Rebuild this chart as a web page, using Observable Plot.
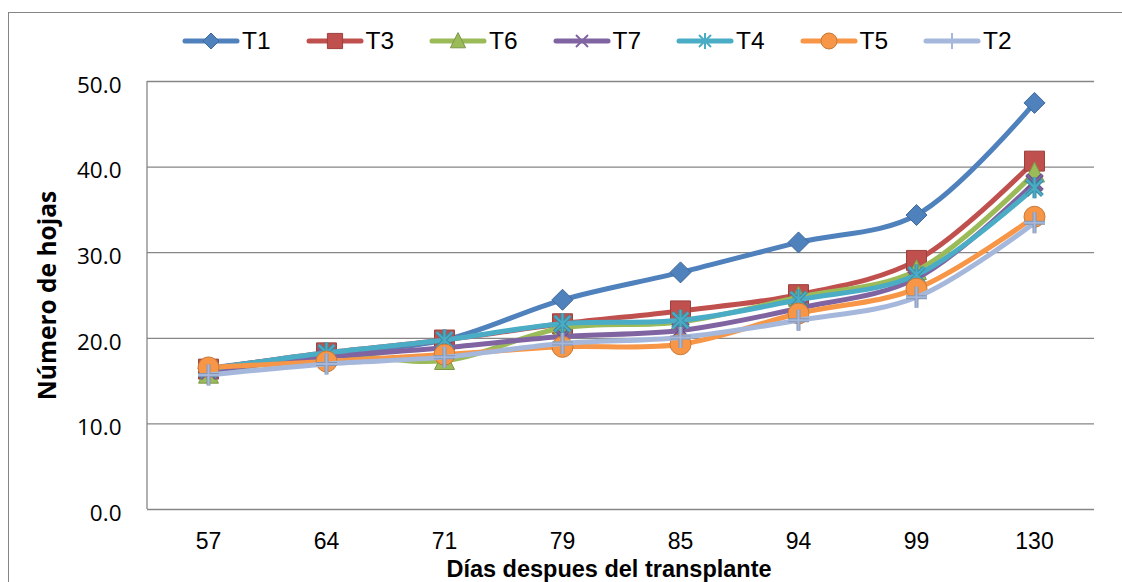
<!DOCTYPE html>
<html>
<head>
<meta charset="utf-8">
<script src="https://cdn.jsdelivr.net/npm/d3@7"></script>
<script src="https://cdn.jsdelivr.net/npm/@observablehq/plot@0.6"></script>
<style>
  html, body { margin: 0; padding: 0; background: #fff; }
  #chart { position: relative; width: 1122px; height: 582px; overflow: hidden; }
  #border { position: absolute; left: 8px; top: 12px; width: 1300px; height: 800px;
            border: 1px solid #868686; box-sizing: border-box; }
  #legend { position: absolute; left: 182px; top: 20px; height: 42px; display: flex; align-items: center;
            font-family: "Liberation Sans", Arial, sans-serif; font-size: 24.5px; color: #000; }
  .item { width: 123.5px; flex: none; display: flex; align-items: center; }
  .item svg { margin-right: 2px; }
  #plot { position: absolute; left: 0; top: 62px; }
</style>
</head>
<body>
<div id="chart">
  <div id="border"></div>
  <div id="legend"></div>
  <div id="plot"></div>
</div>
<script>
// Days after transplant (categorical x axis)
const dias = ["57", "64", "71", "79", "85", "94", "99", "130"];

// Leaf count per treatment
const T1 = [16.5, 18.2, 19.8, 24.5, 27.7, 31.2, 34.4, 47.5];
const T3 = [16.4, 18.3, 19.8, 21.7, 23.2, 25.1, 29.1, 40.7];
const T6 = [15.8, 18.0, 17.4, 21.2, 21.9, 24.8, 27.9, 39.3];
const T7 = [16.2, 17.8, 18.9, 20.2, 20.9, 23.5, 27.0, 38.2];
const T4 = [16.4, 18.3, 19.8, 21.7, 22.1, 24.5, 27.4, 37.6];
const T5 = [16.6, 17.3, 18.1, 19.0, 19.3, 22.9, 25.8, 34.2];
const T2 = [15.7, 17.0, 17.8, 19.4, 20.1, 22.1, 24.8, 33.5];

const yTicks = [0, 10, 20, 30, 40, 50];
const yTitle = "Número de hojas";
const xTitle = "Días despues del transplante";

// Marker shapes (size is π·r², so r is recovered from it)
const rad = s => Math.sqrt(s / Math.PI);
const symDiamond = {draw(c, s) { const r = rad(s); c.moveTo(0, -r); c.lineTo(r, 0); c.lineTo(0, r); c.lineTo(-r, 0); c.closePath(); }};
const symSquare = {draw(c, s) { const r = rad(s) * 0.95; c.rect(-r, -r, 2 * r, 2 * r); }};
const symTriangle = {draw(c, s) { const r = rad(s); c.moveTo(0, -r * 1.05); c.lineTo(r * 0.95, r * 0.85); c.lineTo(-r * 0.95, r * 0.85); c.closePath(); }};
const symTimes = {draw(c, s) { const r = rad(s) * 0.75; c.moveTo(-r, -r); c.lineTo(r, r); c.moveTo(r, -r); c.lineTo(-r, r); }};
const symStar = {draw(c, s) { const r = rad(s); const a = r * 0.75; c.moveTo(0, -r); c.lineTo(0, r); c.moveTo(-a, -a); c.lineTo(a, a); c.moveTo(a, -a); c.lineTo(-a, a); }};
const symCircle = {draw(c, s) { const r = rad(s); c.moveTo(r, 0); c.arc(0, 0, r, 0, 2 * Math.PI); }};
const symPlus = {draw(c, s) { const r = rad(s); c.moveTo(-r, 0); c.lineTo(r, 0); c.moveTo(0, -r); c.lineTo(0, r); }};

// Series in drawing / legend order
const series = [
  {name: "T1", values: T1, color: "#4F81BD", symbol: symDiamond, filled: true},
  {name: "T3", values: T3, color: "#C0504D", symbol: symSquare, filled: true},
  {name: "T6", values: T6, color: "#9BBB59", symbol: symTriangle, filled: true},
  {name: "T7", values: T7, color: "#8064A2", symbol: symTimes, filled: false},
  {name: "T4", values: T4, color: "#4BACC6", symbol: symStar, filled: false},
  {name: "T5", values: T5, color: "#F79646", symbol: symCircle, filled: true},
  {name: "T2", values: T2, color: "#A5B8DC", symbol: symPlus, filled: false}
];

const rows = series.flatMap(s => s.values.map((v, i) => ({serie: s.name, dia: dias[i], valor: v})));

function markerMarks(s, data, r) {
  const dark = d3.color(s.color).darker(0.6).formatHex();
  if (s.filled) {
    return [Plot.dot(data, {x: "dia", y: "valor", symbol: s.symbol, r, fill: s.color, stroke: dark, strokeWidth: 1})];
  }
  return [
    Plot.dot(data, {x: "dia", y: "valor", symbol: s.symbol, r, fill: "none", stroke: dark, strokeWidth: 4}),
    Plot.dot(data, {x: "dia", y: "valor", symbol: s.symbol, r, fill: "none", stroke: s.color, strokeWidth: 2})
  ];
}

const seriesMarks = series.flatMap(s => {
  const data = rows.filter(d => d.serie === s.name);
  return [
    Plot.line(data, {x: "dia", y: "valor", stroke: s.color, strokeWidth: 5, curve: "catmull-rom",
                     strokeLinecap: "round", strokeLinejoin: "round"}),
    ...markerMarks(s, data, 10.5)
  ];
});

// Left axis line along the plot frame
const leftAxisLine = (index, scales, values, dims) => {
  const x = dims.marginLeft;
  return d3.create("svg:line")
    .attr("x1", x).attr("x2", x)
    .attr("y1", dims.marginTop).attr("y2", dims.height - dims.marginBottom)
    .attr("stroke", "#868686").attr("stroke-width", 1.3)
    .node();
};

const chart = Plot.plot({
  width: 1122,
  height: 520,
  marginLeft: 147,
  marginRight: 28,
  marginTop: 19,
  marginBottom: 73,
  style: {background: "none", color: "#000", fontFamily: "'Liberation Sans', Arial, sans-serif"},
  x: {type: "point", domain: dias, padding: 0.5},
  y: {domain: [0, 50]},
  marks: [
    Plot.gridY(yTicks, {stroke: "#868686", strokeOpacity: 1, strokeWidth: 1.3}),
    leftAxisLine,
    Plot.axisY(yTicks, {tickSize: 0, tickPadding: 26, tickFormat: d => d.toFixed(1), fontSize: 22.5,
                        fontFamily: "'Open Sans', Lato, sans-serif", label: null, dy: 4, fill: "#000"}),
    Plot.axisX({tickSize: 0, tickPadding: 23, fontSize: 23, label: null, fill: "#000"}),
    ...seriesMarks,
    Plot.text([yTitle], {frameAnchor: "left", textAnchor: "middle", lineAnchor: "middle", dx: -99, rotate: -90,
                         fontFamily: "'Open Sans', Lato, sans-serif", fontWeight: "bold", fontSize: 24.5, fill: "#000"}),
    Plot.text([xTitle], {frameAnchor: "bottom", textAnchor: "middle", lineAnchor: "bottom", dy: 67, dx: -12,
                         fontWeight: "bold", fontSize: 23.5, fill: "#000"})
  ]
});
document.getElementById("plot").append(chart);

// Legend: line swatch with its marker, then the series name
const legend = d3.select("#legend");
for (const s of series) {
  const item = legend.append("div").attr("class", "item");
  const sw = item.append("svg").attr("width", 58).attr("height", 26);
  sw.append("line").attr("x1", 3).attr("x2", 55).attr("y1", 13).attr("y2", 13)
    .attr("stroke", s.color).attr("stroke-width", 5).attr("stroke-linecap", "round");
  const path = d3.symbol(s.symbol, Math.PI * 8 * 8)();
  const dark = d3.color(s.color).darker(0.6).formatHex();
  if (s.filled) {
    sw.append("path").attr("transform", "translate(29,13)").attr("d", path)
      .attr("fill", s.color).attr("stroke", dark).attr("stroke-width", 1);
  } else {
    sw.append("path").attr("transform", "translate(29,13)").attr("d", path)
      .attr("fill", "none").attr("stroke", s.color).attr("stroke-width", 2);
  }
  item.append("span").text(s.name);
}
</script>
</body>
</html>
